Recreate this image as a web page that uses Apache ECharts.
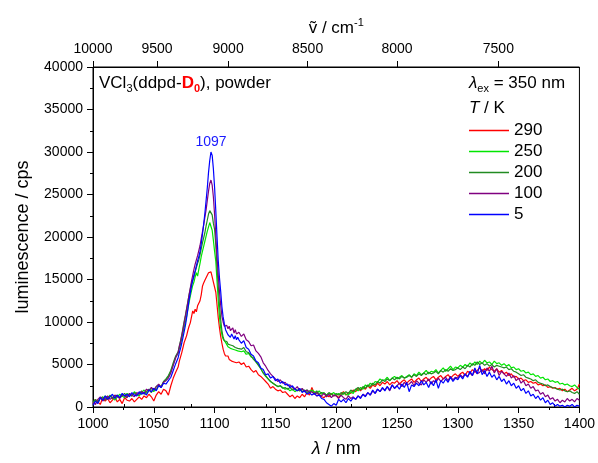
<!DOCTYPE html>
<html>
<head>
<meta charset="utf-8">
<script src="https://cdn.jsdelivr.net/npm/echarts@6/dist/echarts.min.js"></script>
<style>
  html, body { margin: 0; padding: 0; background: #fff; }
  #chart { width: 598px; height: 463px; }
</style>
</head>
<body>
<div id="chart"></div>
<script>
// Sampling of the wavelength axis (nm): [start, end, step]
const wavelengthSegments = [[1000, 1068, 2], [1070, 1119, 1], [1120, 1400, 2]];

// Temperatures (K) shown in the legend, one spectrum each
const temperatures = ['290', '250', '200', '100', '5'];
const seriesColors = ['#ff0000', '#00e600', '#228b22', '#800080', '#0000ff'];

// Luminescence (cps) per temperature, following the wavelength sampling above
const lum290 = [
  400, 900, 600, 300, 1100, 700, 1000, 500, 800, 1200,
  600, 900, 400, 1100, 800, 700, 1000, 600, 900, 1200,
  900, 1300, 1100, 1500, 1200, 700, 1400, 1800, 1500, 2100,
  1900, 1400, 2500, 3400, 4100,
  4700, 5400, 5900, 6400, 7000, 7600, 8000, 8400, 9000, 9500,
  9900, 10600, 11300, 11000, 11500, 11200, 11900, 12000, 12500, 13200,
  14200, 14600, 14900, 15200, 15500, 15800, 15600, 15900, 15300, 14700,
  14500, 13500, 12000, 10500, 9300, 8300, 7500, 6800, 6300, 6000,
  5800, 6000, 5600, 5700, 5400, 5600, 5300, 5500, 5200, 5400,
  5300, 5000, 5200, 4700, 4800, 4400, 4100, 4300, 3800, 3600,
  3300, 3000, 2700, 2200, 2400, 2100, 1900, 2000, 1700, 1800,
  1500, 1200, 1400, 1000, 1300, 1100, 1500, 1200, 1700, 1400,
  2300, 1600, 1300, 1500, 1200, 1100, 1400, 1200, 1600, 1300,
  1400, 1100, 1500, 1800, 1400, 1700, 1600, 2000, 1800, 2200,
  1900, 2300, 2100, 2500, 2200, 2600, 2400, 2800, 2500, 2900,
  2700, 3000, 2600, 2900, 2800, 3100, 2700, 3000, 3200, 2800,
  3100, 3300, 2900, 3200, 3400, 3000, 3300, 3500, 3100, 3400,
  3600, 3200, 3500, 3700, 3300, 3600, 3800, 3400, 3700, 3900,
  3600, 3900, 4100, 3700, 4200, 4000, 4400, 4100, 4300, 4600,
  4200, 4500, 4300, 4700, 4400, 4200, 4500, 4100, 4300, 3900,
  4100, 3700, 3900, 3500, 3600, 3300, 3400, 3100, 3200, 2900,
  3000, 2800, 2900, 2600, 2700, 2500, 2600, 2300, 2400, 2200,
  2300, 2100, 2200, 1900, 2100, 1800, 2000, 2200, 1900, 2100,
  2700
];

const lum250 = [
  300, 800, 600, 1100, 900, 1300, 1000, 1400, 1100, 800,
  1200, 1500, 1300, 1100, 1600, 1400, 1300, 1800, 1500, 1300,
  1700, 2000, 1600, 1900, 2200, 1800, 2400, 2600, 2300, 2900,
  3200, 3600, 4200, 5000, 5900,
  6300, 6900, 7400, 8000, 8700, 9400, 10000, 10700, 11500, 12300,
  13000, 13700, 14300, 14700, 15300, 15800, 15400, 16200, 16900, 17700,
  18300, 18900, 19500, 20100, 20700, 21200, 21700, 21500, 20800, 19600,
  18300, 17100, 14800, 12500, 10600, 9300, 8500, 8000, 7800, 7600,
  7400, 7100, 7300, 6900, 7100, 6800, 7000, 6700, 6900, 6600,
  6800, 6500, 6600, 6200, 6300, 5900, 5800, 5300, 5000, 4500,
  4000, 3600, 3300, 3000, 2800, 2600, 2400, 2500, 2300, 2100,
  2200, 1900, 2100, 1800, 2000, 1900, 2100, 1800, 2000, 1700,
  2000, 1800, 1600, 1900, 1500, 1700, 1400, 1600, 1500, 1700,
  1400, 1600, 1300, 1700, 1500, 1400, 1800, 1600, 2100, 1900,
  2300, 2100, 2600, 2400, 2800, 2600, 3000, 2900, 3300, 3100,
  3200, 3500, 3100, 3400, 3600, 3300, 3500, 3700, 3400, 3600,
  3800, 3500, 3900, 3700, 4100, 3800, 4000, 4300, 3900, 4200,
  4100, 4400, 4000, 4300, 4600, 4200, 4500, 4800, 4400, 4700,
  4600, 4900, 4700, 5000, 4800, 5200, 4900, 5300, 5000, 5400,
  5100, 5500, 5200, 5300, 5000, 5400, 5100, 5200, 4900, 5100,
  4800, 5000, 4600, 4700, 4400, 4500, 4200, 4300, 4000, 4100,
  3800, 3900, 3600, 3700, 3400, 3500, 3200, 3300, 3000, 3100,
  2900, 3000, 2700, 2800, 2600, 2700, 2500, 2400, 2600, 2300,
  2100
];

const lum200 = [
  600, 900, 500, 1000, 1200, 800, 1100, 1300, 1000, 1200,
  1400, 1100, 1300, 1600, 1200, 1500, 1300, 1700, 1400, 1600,
  1900, 1500, 1800, 2100, 1700, 2200, 2000, 2600, 2400, 3000,
  3300, 3700, 4300, 5200, 6000,
  6500, 7200, 7800, 8500, 9300, 10100, 10800, 11600, 12400, 13200,
  13900, 14500, 14900, 15300, 15900, 16400, 16900, 17300, 17900, 18600,
  19300, 19900, 20500, 21300, 22000, 22700, 23100, 23300, 22600, 21600,
  20900, 19000, 16400, 14200, 12000, 10300, 9000, 8200, 7800, 7600,
  7700, 7400, 7600, 7300, 7500, 7200, 7400, 7000, 7200, 6900,
  7100, 6800, 7000, 6500, 6400, 6000, 5600, 5300, 4900, 4500,
  4000, 3700, 3300, 3000, 2800, 2600, 2400, 2500, 2200, 2300,
  2100, 2300, 2000, 2200, 1900, 2100, 1800, 2000, 1700, 1900,
  1800, 1600, 1900, 1500, 1700, 1600, 1400, 1700, 1500, 1300,
  1600, 1400, 1700, 1500, 1800, 1600, 2000, 1800, 2100, 2300,
  2000, 2400, 2200, 2600, 2400, 2800, 2600, 3000, 2800, 3200,
  3000, 3300, 3100, 3400, 3200, 3500, 3300, 3600, 3400, 3500,
  3700, 3500, 3800, 3600, 3900, 3700, 4000, 3800, 4100, 3900,
  4000, 4200, 3900, 4300, 4100, 4400, 4200, 4500, 4300, 4400,
  4600, 4400, 4700, 4500, 4900, 4700, 5100, 4900, 5300, 5000,
  5200, 4900, 5100, 4800, 5000, 4700, 4900, 4800, 4700, 4600,
  4700, 4400, 4500, 4200, 4100, 3900, 3700, 3800, 3500, 3400,
  3300, 3100, 3200, 2900, 2800, 2700, 2500, 2600, 2400, 2300,
  2200, 2100, 2000, 2100, 1900, 1800, 1900, 1700, 1600, 1800,
  1500
];

const lum100 = [
  500, 300, 900, 1200, 700, 1000, 1300, 900, 1100, 1400,
  1200, 1000, 1500, 1300, 1100, 1600, 1400, 1200, 1700, 1500,
  1800, 1600, 2100, 1900, 2300, 2000, 2400, 2700, 2300, 2900,
  3100, 3400, 4000, 4900, 5800,
  6400, 7100, 7700, 8400, 9100, 9900, 10700, 11500, 12300, 13200,
  14000, 14800, 15500, 16200, 16800, 17300, 17800, 18400, 19000, 19800,
  20600, 21400, 22300, 23200, 24300, 25400, 26300, 26700, 26100, 24700,
  22600, 20100, 17600, 15500, 13600, 12000, 10700, 10000, 9500, 9300,
  9600, 9200, 9500, 9000, 8900, 9300, 8700, 9100, 8600, 8400,
  8800, 8300, 8600, 7900, 7700, 7200, 7300, 6600, 6300, 5900,
  5200, 4800, 4300, 3900, 3600, 3300, 3000, 3200, 2800, 2900,
  2500, 2600, 2300, 2100, 2400, 1900, 2200, 1800, 2000, 1700,
  1800, 1500, 1700, 1400, 1300, 1600, 1200, 1500, 1100, 1400,
  1300, 1000, 1400, 1100, 900, 1300, 1000, 1200, 900, 1300,
  1100, 1500, 1300, 1700, 1400, 1900, 1600, 2100, 1800, 2200,
  2000, 2400, 1900, 2600, 2200, 2500, 2800, 2400, 2900, 2600,
  2700, 3000, 2500, 3100, 2800, 2600, 3200, 2900, 3300, 2700,
  3100, 2900, 3400, 3000, 3300, 3500, 3100, 3600, 3200, 3500,
  3400, 3800, 3500, 3900, 3600, 4000, 3700, 4300, 3900, 4100,
  4400, 3900, 4600, 4200, 4800, 4000, 4500, 3700, 4200, 3900,
  3600, 4000, 3400, 3700, 3100, 3400, 2800, 3100, 2500, 2700,
  2200, 2400, 1900, 2000, 1500, 1700, 1200, 1400, 900, 1100,
  700, 900, 500, 800, 600, 1000, 700, 900, 600, 1000,
  800
];

const lum5 = [
  200, 700, 400, 1100, 800, 1300, 900, 1200, 1500, 1000,
  1400, 1100, 1600, 1300, 1500, 1200, 1700, 1400, 1300, 1800,
  1500, 1700, 1400, 2000, 1800, 2200, 1900, 2500, 2300, 2800,
  2700, 3100, 3500, 4300, 5100,
  5800, 6400, 6900, 7500, 8200, 8900, 9600, 10500, 11500, 12600,
  13400, 14200, 14900, 15500, 16000, 16600, 17200, 17700, 18300, 19200,
  20300, 21500, 22800, 24300, 25800, 27600, 29000, 30000, 29600, 28000,
  25800, 23000, 20000, 17200, 15200, 13600, 11800, 10600, 9800, 9100,
  8900, 8500, 8700, 8200, 8600, 8300, 8000, 8400, 7900, 8200,
  7900, 7500, 7800, 7000, 6800, 6200, 6000, 5400, 5200, 4600,
  4400, 3800, 3900, 3400, 3600, 3100, 3300, 2800, 3000, 2600,
  2700, 2300, 2500, 2100, 1900, 2200, 1700, 1900, 1500, 1700,
  1400, 1600, 1300, 1400, 1000, 900, 500, 300, 100, 400,
  200, 900, 600, 900, 500, 1000, 700, 1100, 900, 1300,
  1000, 1500, 1200, 1700, 1400, 2000, 1600, 2100, 1800, 2300,
  1900, 2400, 2000, 2600, 2200, 2500, 2100, 2700, 2300, 2900,
  1800, 2600, 2400, 2800, 2500, 3100, 2600, 2900, 2300, 3000,
  2500, 3200, 2200, 3100, 2800, 3300, 2900, 3500, 3000, 3400,
  3200, 3700, 3300, 3900, 3500, 4200, 3700, 4600, 3900, 4900,
  3800, 4300, 3600, 4100, 3500, 3800, 3200, 3600, 3000, 3300,
  2700, 3100, 2500, 2800, 2200, 2500, 1900, 2200, 1600, 1900,
  1300, 1500, 1000, 1300, 800, 1100, 500, 800, 300, 500,
  100, 300, 100, 200, 0, 200, 100, 300, 0, 200,
  100
];

// Top axis: wavenumbers (cm-1) marked on the wavelength scale
const topMajorWavenumbers = [10000, 9500, 9000, 8500, 8000, 7500];
const topMinorWavenumbers = [9750, 9250, 8750, 8250, 7750, 7250];

// Wavelength (nm) of the annotated emission maximum
const peakWavelength = 1097;

const FONT = '"Liberation Sans", Arial, sans-serif';

const wavelengths = [];
wavelengthSegments.forEach(([start, end, step]) => {
  for (let w = start; w <= end; w += step) wavelengths.push(w);
});

const spectra = [lum290, lum250, lum200, lum100, lum5];
spectra.forEach((arr, k) => {
  if (arr.length !== wavelengths.length) {
    console.error('length mismatch for ' + temperatures[k] + ' K: ' + arr.length + ' vs ' + wavelengths.length);
  }
});

const toNm = (wn) => 1e7 / wn;

const series = spectra.map((arr, k) => {
  const s = {
    name: temperatures[k],
    type: 'line',
    xAxisIndex: 0,
    yAxisIndex: 0,
    symbol: 'none',
    showSymbol: false,
    animation: false,
    lineStyle: { color: seriesColors[k], width: 1.2 },
    itemStyle: { color: seriesColors[k] },
    data: wavelengths.map((w, i) => [w, arr[i]])
  };
  if (temperatures[k] === '5') {
    const peakValue = arr[wavelengths.indexOf(peakWavelength)];
    s.markPoint = {
      symbol: 'circle',
      symbolSize: 0,
      animation: false,
      data: [{ coord: [peakWavelength, peakValue] }],
      label: {
        show: true,
        position: 'top',
        distance: 3,
        formatter: String(peakWavelength),
        color: '#1a1aff',
        fontSize: 14,
        fontFamily: FONT
      }
    };
  }
  return s;
});

const axisText = { color: '#000', fontSize: 14, fontFamily: FONT };
const plain = (v) => String(v);

const option = {
  animation: false,
  backgroundColor: '#fff',
  grid: {
    left: 93, right: 16, top: 67, bottom: 55,
    show: true, borderColor: '#000', borderWidth: 1, backgroundColor: 'transparent'
  },
  title: [
    {
      left: 99, top: 72, padding: 0,
      text: '{n|VCl}{s|3}{n|(ddpd-}{r|D}{rs|0}{n|), powder}',
      textStyle: {
        fontWeight: 'normal',
        rich: {
          n: { fontSize: 17, lineHeight: 22, color: '#000', fontWeight: 'normal', fontFamily: FONT },
          s: { fontSize: 11, lineHeight: 11, verticalAlign: 'bottom', color: '#000', fontWeight: 'normal', fontFamily: FONT },
          r: { fontSize: 17, lineHeight: 22, color: '#ff0000', fontWeight: 'bold', fontFamily: FONT },
          rs: { fontSize: 11, lineHeight: 11, verticalAlign: 'bottom', color: '#ff0000', fontWeight: 'bold', fontFamily: FONT }
        }
      }
    },
    {
      left: 469, top: 72, padding: 0,
      text: '{i|λ}{s|ex}{n| = 350 nm}',
      textStyle: {
        fontWeight: 'normal',
        rich: {
          i: { fontSize: 17, lineHeight: 22, fontStyle: 'italic', fontWeight: 'normal', color: '#000', fontFamily: FONT },
          n: { fontSize: 17, lineHeight: 22, color: '#000', fontWeight: 'normal', fontFamily: FONT },
          s: { fontSize: 11, lineHeight: 11, verticalAlign: 'bottom', fontWeight: 'normal', color: '#000', fontFamily: FONT }
        }
      }
    },
    {
      left: 469, top: 97, padding: 0,
      text: '{i|T}{n| / K}',
      textStyle: {
        fontWeight: 'normal',
        rich: {
          i: { fontSize: 17, lineHeight: 22, fontStyle: 'italic', fontWeight: 'normal', color: '#000', fontFamily: FONT },
          n: { fontSize: 17, lineHeight: 22, color: '#000', fontWeight: 'normal', fontFamily: FONT }
        }
      }
    }
  ],
  legend: {
    orient: 'vertical',
    left: 469, top: 122,
    padding: 0,
    icon: 'rect',
    itemWidth: 40, itemHeight: 1.5, itemGap: 4,
    data: temperatures,
    textStyle: { color: '#000', fontSize: 17, lineHeight: 17, fontFamily: FONT },
    selectedMode: false
  },
  xAxis: [
    {
      type: 'value', position: 'bottom',
      min: 1000, max: 1400, interval: 50,
      name: '{i|λ} / nm', nameLocation: 'middle', nameGap: 33,
      nameTextStyle: {
        color: '#000', fontSize: 18, fontFamily: FONT,
        rich: {
          i: { fontStyle: 'italic', fontSize: 18, fontFamily: FONT, color: '#000' }
        }
      },
      axisLine: { show: true, onZero: false, lineStyle: { color: '#000', width: 1 } },
      axisTick: { show: true, inside: false, length: 6, lineStyle: { color: '#000' } },
      minorTick: { show: true, splitNumber: 2, length: 3, lineStyle: { color: '#000' } },
      axisLabel: Object.assign({ margin: 10, formatter: plain }, axisText),
      splitLine: { show: false }
    },
    {
      type: 'value', position: 'top',
      min: 1000, max: 1400,
      name: '{n|ṽ / cm}{sup|-1}', nameLocation: 'middle', nameGap: 26,
      nameTextStyle: {
        color: '#000', fontSize: 17, fontFamily: FONT,
        rich: {
          n: { fontSize: 17, lineHeight: 22, fontFamily: FONT, color: '#000' },
          sup: { fontSize: 11, lineHeight: 11, verticalAlign: 'top', fontFamily: FONT, color: '#000' }
        }
      },
      axisLine: { show: true, onZero: false, lineStyle: { color: '#000', width: 1 } },
      axisTick: { show: true, inside: false, length: 6, customValues: topMajorWavenumbers.map(toNm), lineStyle: { color: '#000' } },
      axisLabel: Object.assign({
        margin: 11,
        customValues: topMajorWavenumbers.map(toNm),
        formatter: (v) => String(Math.round(1e7 / v))
      }, axisText),
      splitLine: { show: false }
    },
    {
      type: 'value', position: 'top',
      min: 1000, max: 1400,
      axisLine: { show: false },
      axisTick: { show: true, inside: false, length: 3, customValues: topMinorWavenumbers.map(toNm), lineStyle: { color: '#000' } },
      axisLabel: { show: false },
      splitLine: { show: false }
    }
  ],
  yAxis: {
    type: 'value',
    min: 0, max: 40000, interval: 5000,
    name: 'luminescence / cps', nameLocation: 'middle', nameGap: 61,
    nameTextStyle: { color: '#000', fontSize: 18, fontFamily: FONT },
    axisLine: { show: true, onZero: false, lineStyle: { color: '#000', width: 1 } },
    axisTick: { show: true, inside: false, length: 6, lineStyle: { color: '#000' } },
    minorTick: { show: true, splitNumber: 2, length: 3, lineStyle: { color: '#000' } },
    axisLabel: Object.assign({ margin: 10, formatter: plain }, axisText),
    splitLine: { show: false }
  },
  series: series
};

const chart = echarts.init(document.getElementById('chart'), null, { renderer: 'canvas' });
chart.setOption(option);
</script>
</body>
</html>
